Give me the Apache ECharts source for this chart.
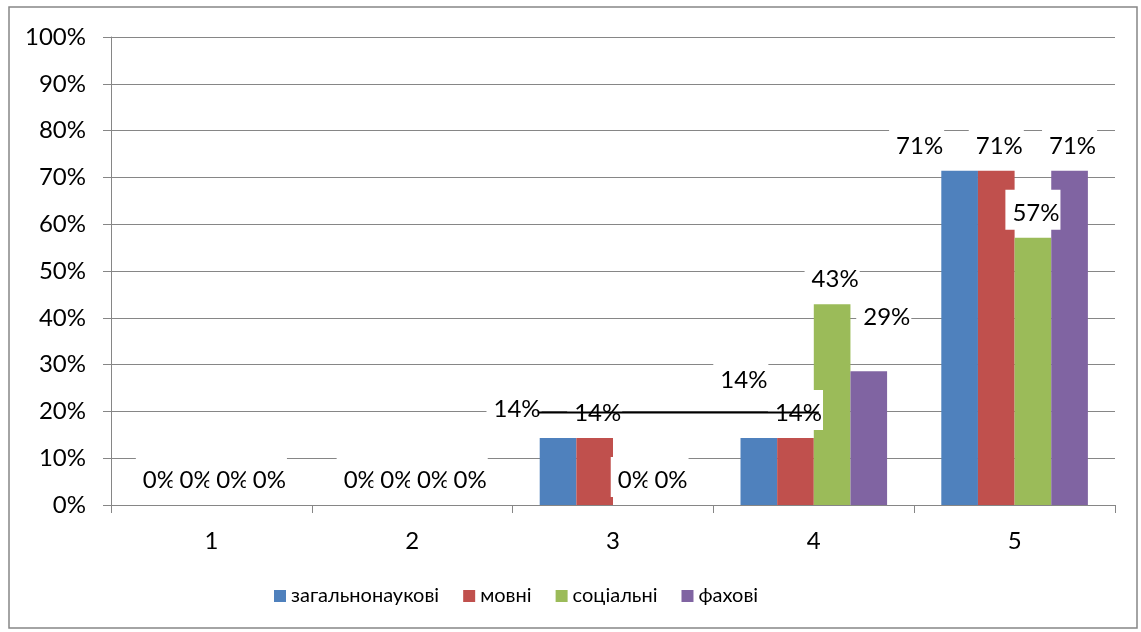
<!DOCTYPE html>
<html>
<head>
<meta charset="utf-8">
<script src="https://cdn.jsdelivr.net/npm/echarts@6/dist/echarts.min.js"></script>
<style>
  html, body { margin: 0; padding: 0; background: #fff; }
  #chart { width: 1141px; height: 632px; }
</style>
</head>
<body>
<div id="chart"></div>
<script>
// categories and series values (share of answers)
const categories = ['1', '2', '3', '4', '5'];
const seriesNames = ['загальнонаукові', 'мовні', 'соціальні', 'фахові'];
const zagalnonaukovi = [0, 0, 0.143, 0.143, 0.714];
const movni = [0, 0, 0.143, 0.143, 0.714];
const sotsialni = [0, 0, 0, 0.429, 0.571];
const fakhovi = [0, 0, 0, 0.286, 0.714];
const colors = ['#4F81BD', '#C0504D', '#9BBB59', '#8064A2'];

// label nudges, like Excel moved the overlapping ones (series-category)
const labelNudge = {
    '0-2': [-44, -4],
    '0-3': [-18, -33],
    '3-3': [15, -29],
    '0-4': [-43, 0]
};

const FONT = 'Lato, "Liberation Sans", sans-serif';
const chart = echarts.init(document.getElementById('chart'));

function makeSeries(values, idx) {
    return {
        name: seriesNames[idx],
        type: 'bar',
        barGap: '0%',
        barCategoryGap: '27%',
        itemStyle: { color: colors[idx] },
        data: values.map((v, c) => {
            let item = { value: v };
            let n = labelNudge[idx + '-' + c];
            if (n) {
                item.label = { offset: n };
            }
            return item;
        }),
        label: {
            show: true,
            position: 'top',
            distance: 8,
            fontFamily: FONT,
            fontSize: 24,
            color: '#000',
            lineHeight: 20,
            backgroundColor: '#fff',
            padding: [13, 1, 7, 7],
            formatter: p => Math.round(p.value * 100) + '%'
        }
    };
}

let option = {
    animation: false,
    grid: {
        left: 111,
        right: 26,
        top: 37,
        bottom: 127
    },
    legend: {
        left: 274,
        top: 586,
        padding: 0,
        itemWidth: 12,
        itemHeight: 12,
        itemGap: 24,
        icon: 'rect',
        textStyle: {
            fontFamily: FONT,
            fontSize: 20,
            color: '#000'
        },
        data: seriesNames
    },
    xAxis: {
        type: 'category',
        data: categories,
        axisLine: { lineStyle: { color: '#868686', width: 1 } },
        axisTick: { show: true, length: 8, lineStyle: { color: '#868686' } },
        axisLabel: {
            margin: 24,
            fontFamily: FONT,
            fontSize: 24,
            color: '#000'
        }
    },
    yAxis: {
        type: 'value',
        min: 0,
        max: 1,
        interval: 0.1,
        axisLine: { show: true, lineStyle: { color: '#868686', width: 1 } },
        axisTick: { show: true, length: 8, lineStyle: { color: '#868686' } },
        splitLine: { lineStyle: { color: '#868686', width: 1 } },
        axisLabel: {
            margin: 25,
            fontFamily: FONT,
            fontSize: 24,
            color: '#000',
            formatter: v => Math.round(v * 100) + '%'
        }
    },
    series: [
        makeSeries(zagalnonaukovi, 0),
        makeSeries(movni, 1),
        makeSeries(sotsialni, 2),
        makeSeries(fakhovi, 3)
    ]
};

chart.setOption(option);

// outer chart frame and the stray black line at 20% between groups 3 and 4
let p3 = chart.convertToPixel({ gridIndex: 0 }, ['3', 0.2]);
let p4 = chart.convertToPixel({ gridIndex: 0 }, ['4', 0.2]);
let band = p4[0] - p3[0];
chart.setOption({
    graphic: [
        {
            type: 'rect',
            shape: { x: 9, y: 7, width: 1128, height: 621 },
            style: { fill: null, stroke: '#878787', lineWidth: 1.5 },
            silent: true,
            z: -1
        },
        {
            type: 'line',
            shape: { x1: p3[0] - 0.375 * band, y1: p3[1] + 1, x2: p4[0] + 0.025 * band, y2: p4[1] + 1 },
            style: { stroke: '#000', lineWidth: 2 },
            silent: true,
            z: 100
        }
    ]
});
</script>
</body>
</html>
